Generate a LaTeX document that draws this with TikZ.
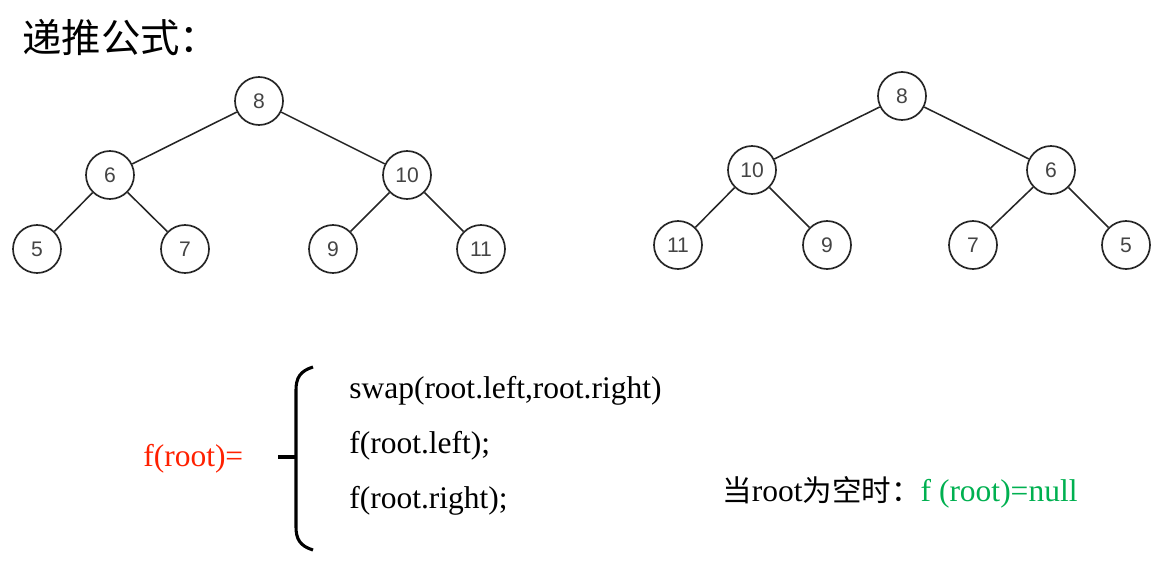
\documentclass[tikz,border=0pt]{standalone}
\usepackage{fontspec}
\setmainfont{Liberation Serif}
\newfontfamily\treefont{Liberation Sans}
\newfontfamily\cjk{Noto Sans CJK SC}
\definecolor{nodegray}{HTML}{444444}
\definecolor{formulared}{HTML}{FF2000}
\definecolor{nullgreen}{HTML}{00B050}
\tikzset{
    treenode/.style={draw=black!85, line width=1.2pt, circle, minimum size=48\unitpx, inner sep=0pt,
        font=\treefont\fontsize{15}{17}\selectfont, text=nodegray},
    treeedge/.style={draw=black!85, line width=1.1pt},
    codeline/.style={anchor=west, inner sep=0pt, font=\fontsize{22.4}{26}\selectfont}
}
\newlength{\unitpx}
\setlength{\unitpx}{0.025cm}
\begin{document}
\begin{tikzpicture}[x=0.025cm, y=-0.025cm]
        \useasboundingbox (0,0) rectangle (1174,564);

        % Title
        \node[anchor=west, inner sep=0pt, font=\cjk\fontsize{28}{30}\selectfont] (title) at (22,38) {递推公式：};

        % Original tree
        \foreach \name/\val/\x/\y in {a/8/259/101, b/6/110/175, c/10/407/175,
            d/5/37/249, e/7/185/249, f/9/333/249, g/11/481/249} {
            \node[treenode] (l\name) at (\x,\y) {\val};
        }
        \foreach \p/\c in {a/b, a/c, b/d, b/e, c/f, c/g} {
            \draw[treeedge] (l\p) -- (l\c);
        }

        % Mirrored tree
        \foreach \name/\val/\x/\y in {a/8/902/96, b/10/752/170, c/6/1051/170,
            d/11/678/245, e/9/827/245, f/7/973/245, g/5/1126/245} {
            \node[treenode] (r\name) at (\x,\y) {\val};
        }
        \foreach \p/\c in {a/b, a/c, b/d, b/e, c/f, c/g} {
            \draw[treeedge] (r\p) -- (r\c);
        }

        % Recursion
        \node[codeline, text=formulared] (froot) at (143,459) {f(root)=};
        \coordinate (btop) at (313,367);
        \coordinate (bmid) at (296,457);
        \coordinate (bbot) at (313,550);
        \coordinate (btick) at (278,457);
        \draw[line width=2.2pt] (btop) .. controls (300,371) and (296,378) .. (296,390)
            -- (296,527) .. controls (296,539) and (300,546) .. (bbot);
        \draw[line width=2.2pt] (btick) -- (bmid);
        \node[codeline] (swap) at (349,391) {swap(root.left,root.right)};
        \node[codeline] (fleft) at (349,446) {f(root.left);};
        \node[codeline] (fright) at (349,501) {f(root.right);};

        % Base case
        \node[codeline] (base) at (722,492) {{\cjk\fontsize{21}{26}\selectfont 当}root{\cjk\fontsize{21}{26}\selectfont 为空时：}\textcolor{nullgreen}{f (root)=null}};
    \end{tikzpicture}
\end{document}
